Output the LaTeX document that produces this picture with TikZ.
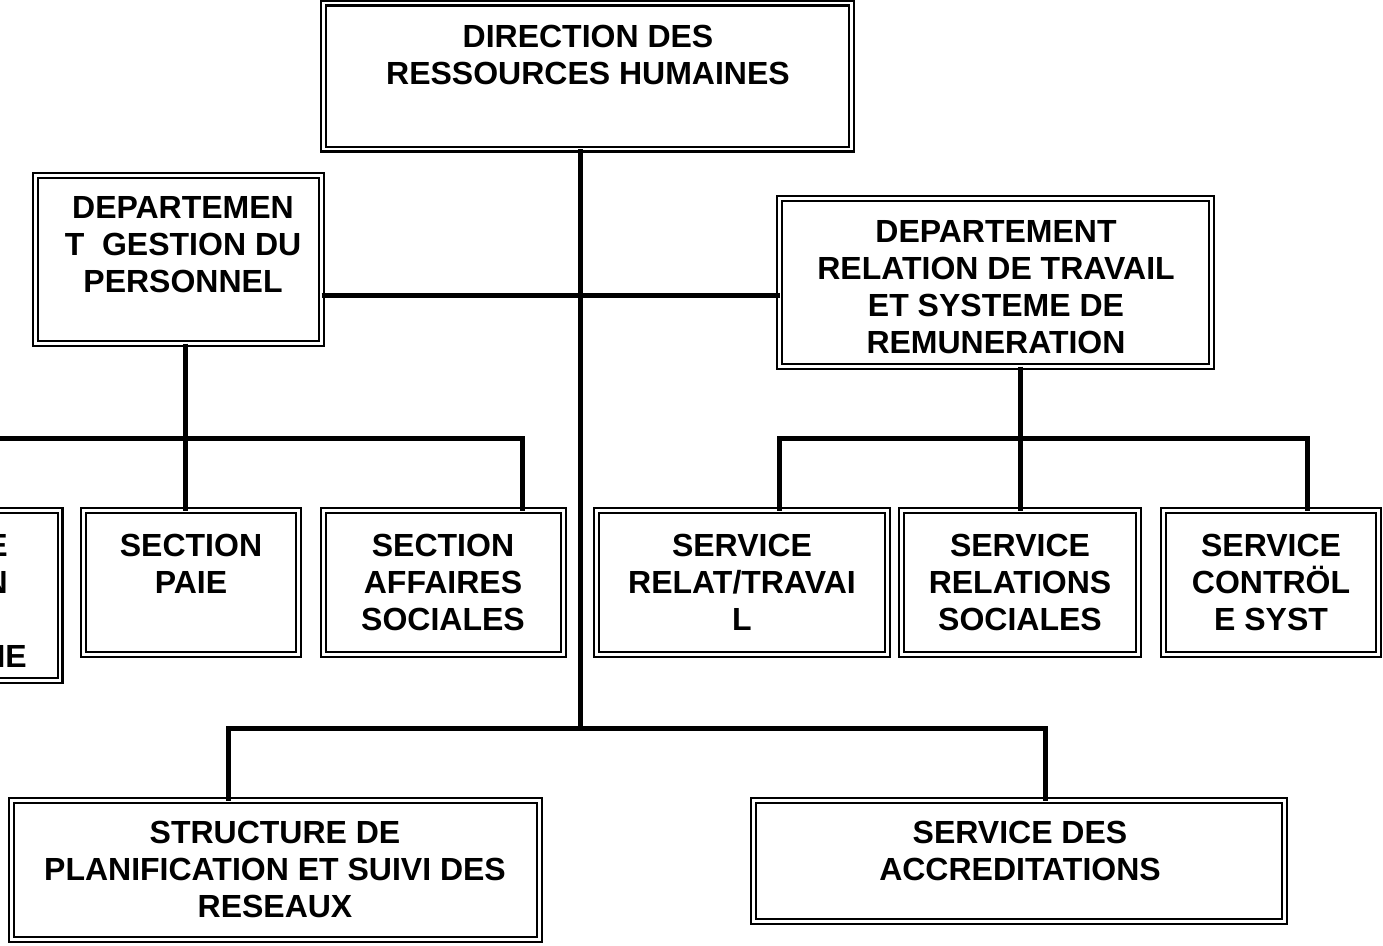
\documentclass[tikz,border=0pt]{standalone}
\usepackage{fontspec}
\setmainfont{Liberation Sans}
\begin{document}
\begin{tikzpicture}[x=1pt,y=-1pt,
  box/.style={draw=black, double=white, double distance=2.2pt, line width=2.4pt,
    rectangle, inner sep=0pt, outer sep=0pt},
  lbl/.style={font=\fontsize{32}{37}\selectfont\bfseries, align=center, inner sep=0pt},
  conn/.style={line width=5pt}]
\clip (0,0) rectangle (1383,945);
\fill[white] (0,0) rectangle (1383,945);
% boxes
\node[box, minimum width=528, minimum height=146] (drh) at (587.5,76) {};
\node[box, minimum width=286, minimum height=168] (dgp) at (178.5,259.5) {};
\node[box, minimum width=432, minimum height=168] (drt) at (995.5,282.5) {};
\node[box, minimum width=256, minimum height=170] (prt) at (-68,595.5) {};
\node[box, minimum width=215, minimum height=144] (paie) at (191,582.5) {};
\node[box, minimum width=240, minimum height=144] (aff) at (443.5,582.5) {};
\node[box, minimum width=291, minimum height=144] (rtr) at (742,582.5) {};
\node[box, minimum width=237, minimum height=144] (rso) at (1020,582.5) {};
\node[box, minimum width=215, minimum height=144] (csy) at (1271,582.5) {};
\node[box, minimum width=528, minimum height=139] (str) at (275.5,870) {};
\node[box, minimum width=531, minimum height=121] (acc) at (1019,861) {};
% labels
\node[lbl] (drhT) at (588,55) {DIRECTION DES\\RESSOURCES HUMAINES};
\node[lbl] (dgpT) at (183,245) {DEPARTEMEN\\T~ GESTION DU\\PERSONNEL};
\node[lbl] (drtT) at (996,287) {DEPARTEMENT\\RELATION DE TRAVAIL\\ET SYSTEME DE\\REMUNERATION};
\node[lbl, align=right, anchor=east] (prtT) at (27,601) {E\kern19pt\\N\kern19pt\\\mbox{}\\NE};
\node[lbl] (paieT) at (191,563.5) {SECTION\\PAIE};
\node[lbl] (affT) at (443,582) {SECTION\\AFFAIRES\\SOCIALES};
\node[lbl] (rtrT) at (742,582) {SERVICE\\RELAT/TRAVAI\\L};
\node[lbl] (rsoT) at (1020,582) {SERVICE\\RELATIONS\\SOCIALES};
\node[lbl] (csyT) at (1271,582) {SERVICE\\CONTRÖL\\E SYST};
\node[lbl] (strT) at (275,869) {STRUCTURE DE\\PLANIFICATION ET SUIVI DES\\RESEAUX};
\node[lbl] (accT) at (1020,850.5) {SERVICE DES\\ACCREDITATIONS};
% junction coordinates
\coordinate (tb) at (580,728);
\coordinate (j1) at (580,295);
\coordinate (lb) at (185,438);
\coordinate (lL) at (-10,438);
\coordinate (la) at (522,438);
\coordinate (rb) at (1020,438);
\coordinate (rL) at (779,438);
\coordinate (rR) at (1307,438);
\coordinate (bL) at (228,728);
\coordinate (bR) at (1045,728);
% connectors
\draw[conn] (drh.south -| tb) -- (tb);
\draw[conn] (dgp.east |- j1) -- (drt.west |- j1);
\draw[conn] (dgp.south -| lb) -- (lb);
\draw[conn] (lL) -- (la) -- (la |- aff.north);
\draw[conn] (lb) -- (lb |- paie.north);
\draw[conn] (drt.south -| rb) -- (rb);
\draw[conn] (rL |- rtr.north) -- (rL) -- (rR) -- (rR |- csy.north);
\draw[conn] (rb) -- (rb |- rso.north);
\draw[conn] (bL |- str.north) -- (bL) -- (bR) -- (bR |- acc.north);
\end{tikzpicture}
\end{document}
